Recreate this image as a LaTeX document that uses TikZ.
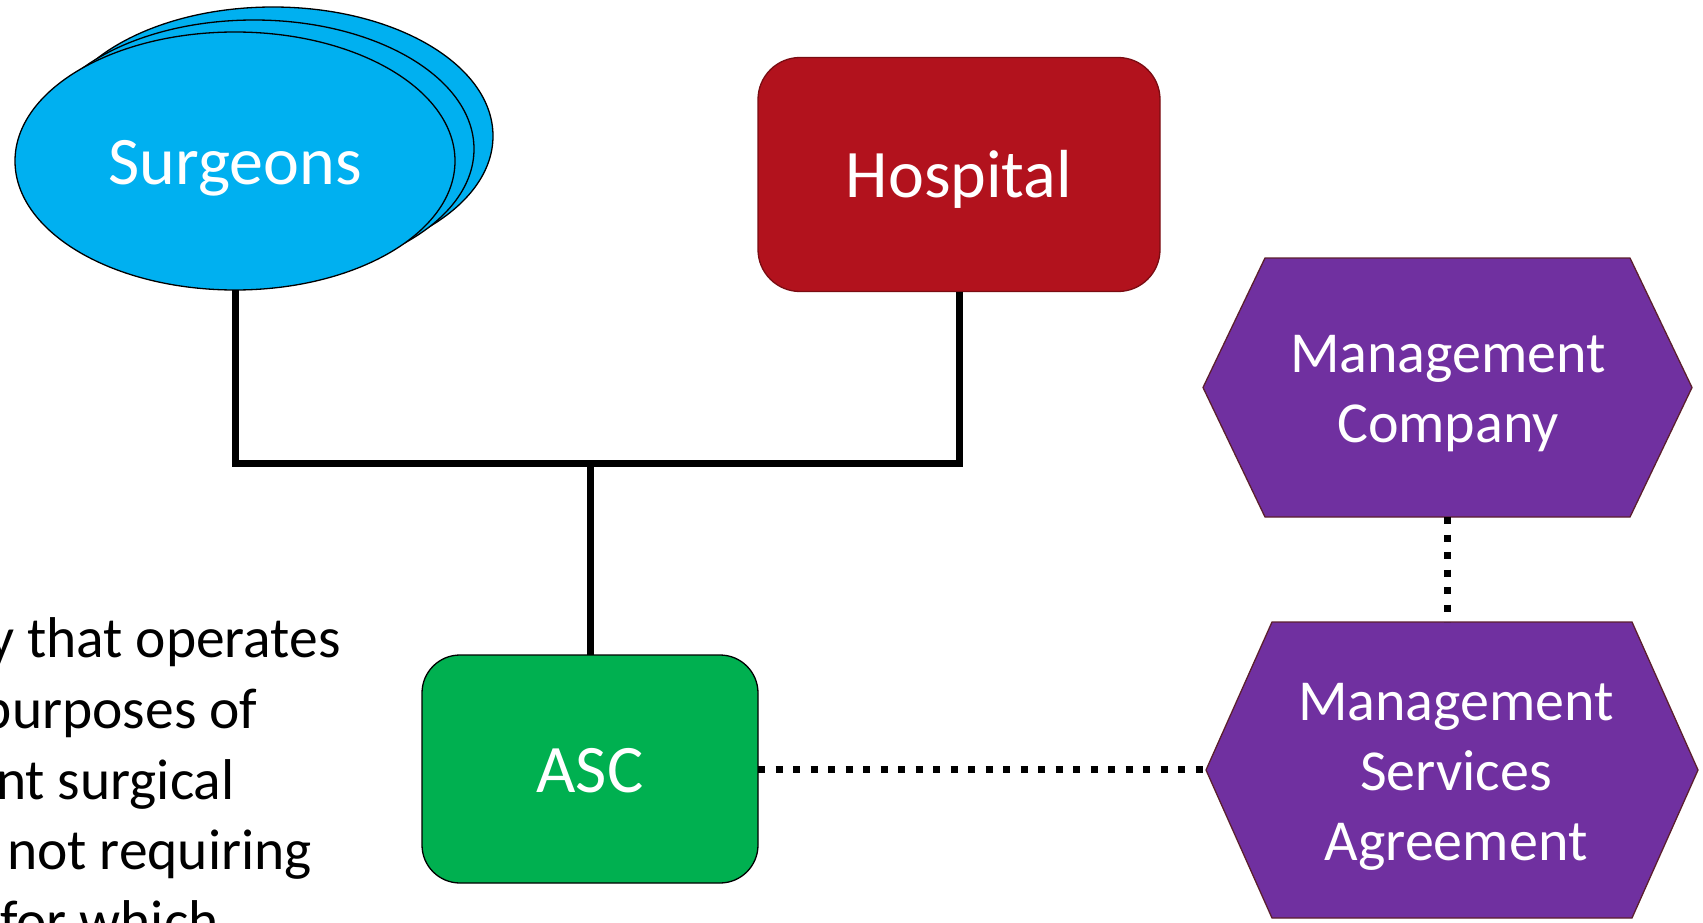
\documentclass[tikz,border=0pt]{standalone}
\usepackage{fontspec}
\setmainfont{Carlito}
\usetikzlibrary{calc,backgrounds,shapes.geometric}
\definecolor{sky}{HTML}{00B0F0}
\definecolor{hosp}{HTML}{B2121D}
\definecolor{hospdark}{HTML}{7A0C12}
\definecolor{ascgreen}{HTML}{00B050}
\definecolor{purp}{HTML}{7030A0}
\definecolor{purpdark}{HTML}{5C1F2E}
\begin{document}
\begin{tikzpicture}[x=1pt,y=-1pt,
  big/.style={font=\fontsize{68}{80}\selectfont, text=white, text height=46pt, text depth=0pt},
  mid/.style={font=\fontsize{58}{70}\selectfont, text=white, align=center, inner sep=0pt},
  body/.style={font=\fontsize{57.5}{70}\selectfont, text=black, anchor=base west, inner sep=0pt, outer sep=0pt},
  ellback/.style={draw=black, line width=1.3pt, fill=sky},
  boxnode/.style={inner sep=0pt, outer sep=0pt, line width=1.3pt},
  hexbox/.style={inner sep=0pt, outer sep=0pt},
  hexborder/.style={draw=purpdark, fill=purp, line width=1.3pt, line join=miter},
  conn/.style={line width=7pt, line join=miter, draw=black},
  dotconn/.style={line width=7pt, draw=black, dash pattern=on 7pt off 10.5pt}]
\useasboundingbox (0,0) rectangle (1703,923);

% stacked surgeons ellipses
\draw[ellback] (273,136) ellipse [x radius=220pt, y radius=129pt];
\draw[ellback] (254,149) ellipse [x radius=220pt, y radius=129pt];
\node[ellipse, draw=black, fill=sky, line width=1.3pt, minimum width=440pt, minimum height=258pt, inner sep=0pt, outer sep=0pt, big] (surg) at (235,161) {Surgeons};

% hospital
\node[boxnode, draw=hospdark, fill=hosp, rounded corners=42pt, minimum width=402pt, minimum height=234pt, big] (hosp) at (959,174.5) {Hospital};

% ASC
\node[boxnode, draw=black, fill=ascgreen, rounded corners=38pt, minimum width=336pt, minimum height=228pt, big] (asc) at (590,769) {ASC};

% hexagon nodes (shape outline drawn from their anchors)
\node[hexbox, minimum width=489pt, minimum height=259pt] (mc) at (1447.5,387.5) {};
\node[hexbox, minimum width=492pt, minimum height=296pt] (msa) at (1452,770) {};
\draw[hexborder] (mc.west) -- ($(mc.north west)+(62,0)$) -- ($(mc.north east)+(-62,0)$) -- (mc.east) -- ($(mc.south east)+(-62,0)$) -- ($(mc.south west)+(62,0)$) -- cycle;
\draw[hexborder] (msa.west) -- ($(msa.north west)+(66,0)$) -- ($(msa.north east)+(-66,0)$) -- (msa.east) -- ($(msa.south east)+(-66,0)$) -- ($(msa.south west)+(66,0)$) -- cycle;
\node[mid] (mctext) at ($(mc.center)+(0.5,6.5)$) {Management\\Company};
\node[mid] (msatext) at ($(msa.center)+(4,7)$) {Management\\Services\\Agreement};

% solid connectors
\coordinate (bus) at (590,463);
\draw[conn] (surg.south) |- (hosp.south |- bus) -- (hosp.south);
\draw[conn] (asc.north) -- (asc.north |- bus);

% dotted connectors
\draw[dotconn] (asc.east) -- (asc.east -| msa.west);
\draw[dotconn] (mc.south) -- (mc.south |- msa.north);

% left text (cropped at the left and bottom edges, as in the reference)
\node[body] (t1) at (-12,657) {y that operates};
\node[body] (t2) at (-18,728) {purposes of};
\node[body] (t3) at (-4,799) {nt surgical};
\node[body] (t4) at (7,869) {not requiring};
\node[body] (t5) at (0,940) {for which};
\end{tikzpicture}
\end{document}
